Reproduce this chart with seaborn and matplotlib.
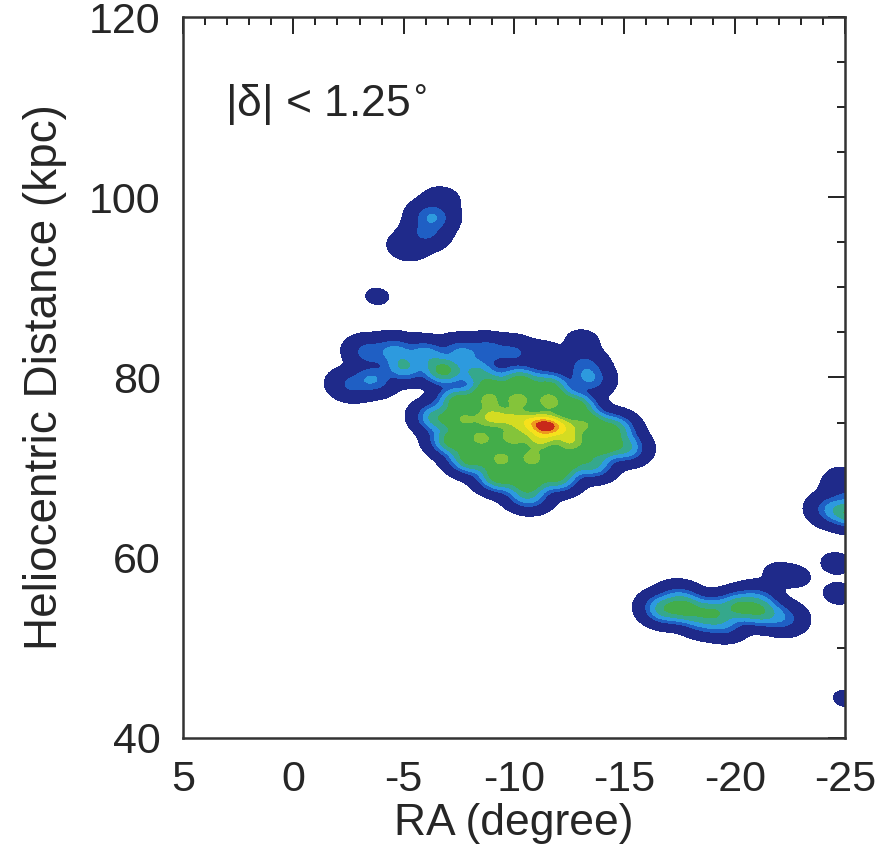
import numpy as np
import matplotlib
matplotlib.use("Agg")
import matplotlib.pyplot as plt
from matplotlib.ticker import MultipleLocator
from matplotlib.colors import ListedColormap, BoundaryNorm
from matplotlib.contour import ContourSet
import seaborn as sns

# ---- data: star-count clumps (RA [deg], heliocentric distance [kpc], weight) ----
# main clump
main_ra = [-11.5, -10.7, -9.8, -12.3,
           -9.0, -10.3, -11.6,
           -7.5, -8.8, -10.2, -11.6, -12.8,
           -6.5, -7.7, -8.9, -13.3, -14.5,
           -7.2, -8.5, -9.9, -11.2, -12.6, -13.9, -15.0,
           -8.0, -9.4, -10.8, -12.2, -13.5,
           -9.3, -10.6, -11.9,
           -10.6]
main_dist = [74.7, 75.0, 75.5, 74.5,
             79.0, 79.5, 79.0,
             77.3, 77.5, 77.5, 77.3, 76.8,
             75.5, 75.3, 75.5, 74.8, 74.3,
             73.0, 73.2, 73.3, 73.0, 72.8, 72.6, 72.3,
             71.0, 71.0, 71.0, 70.8, 70.5,
             69.0, 68.8, 69.0,
             67.0]
main_w = [4.0, 2.5, 2.0, 2.0,
          1.2, 1.5, 1.2,
          1.5, 2.2, 2.5, 2.5, 1.5,
          1.0, 2.2, 2.5, 2.0, 1.2,
          1.5, 2.5, 2.5, 2.5, 2.5, 1.8, 0.9,
          1.5, 2.5, 2.5, 2.0, 1.0,
          1.5, 2.0, 1.3,
          0.8]
# upper-left extension
ext_ra = [-2.6, -3.6, -3.4, -4.6, -5.0, -6.0, -6.8, -7.6, -8.8, -10.0, -8.3, -11.3]
ext_dist = [79.2, 79.8, 82.8, 83.0, 81.2, 82.6, 80.8, 82.8, 83.0, 82.8, 80.6, 82.3]
ext_w = [0.3, 0.5, 0.4, 0.5, 0.8, 0.6, 1.4, 0.5, 0.4, 0.3, 0.8, 0.15]
# small outlying clumps
small_ra = [-13.4, -13.2, -13.1,              # right of main clump
            -6.3, -6.0, -5.2, -6.7,           # ~98 kpc clump
            -3.8,                             # isolated dot
            -16.8, -17.8, -19.0, -20.2, -21.2, -22.2,   # ~54 kpc clump
            -17.5, -19.5, -21.0, -18.5,
            -22.0, -22.8,
            -25.3, -24.4, -25.0, -24.9,       # right edge ~65 kpc
            -24.6, -24.7, -25.0]
small_dist = [79.9, 81.5, 84.0,
              97.8, 96.0, 94.6, 99.7,
              89.0,
              54.3, 54.3, 54.0, 54.5, 54.0, 53.3,
              55.5, 52.6, 55.4, 53.0,
              58.2, 57.9,
              65.0, 65.3, 67.5, 68.8,
              59.4, 56.0, 44.4]
small_w = [0.5, 0.3, 0.06,
           0.5, 0.3, 0.12, 0.08,
           0.035,
           1.0, 1.2, 1.0, 1.2, 1.0, 0.4,
           0.4, 0.4, 0.4, 0.4,
           0.05, 0.04,
           1.2, 0.5, 0.2, 0.05,
           0.05, 0.05, 0.035]
# far off-field counterweights that keep the smoothing kernel untilted
bal_ra = [29.0, -51.0]
bal_dist = [11.5, 136.5]
bal_w = [0.3, 0.3]

levels = [0.004, 0.06, 0.12, 0.20, 0.30, 0.72, 0.87, 0.94, 0.97, 0.985, 1.0]
colors = ["#1f2a8a", "#1f5fc4", "#2d9ade", "#35a88c", "#43ad4a",
          "#84c43a", "#d4dc22", "#f6e11c", "#ee9a1e", "#c8281a"]

xticks = [5, 0, -5, -10, -15, -20, -25]
yticks = [40, 60, 80, 100, 120]

ra = np.array(main_ra + ext_ra + small_ra + bal_ra)
dist = np.array(main_dist + ext_dist + small_dist + bal_dist)
weight = np.array(main_w + ext_w + small_w + bal_w)

sns.set_style("white")
plt.rcParams["font.family"] = ["Liberation Sans", "DejaVu Sans"]
plt.rcParams["axes.unicode_minus"] = False

fig = plt.figure(figsize=(8.85, 8.6), dpi=100)
ax = fig.add_axes([0.2068, 0.1419, 0.7480, 0.8383])

cmap = ListedColormap(colors)
sns.kdeplot(x=ra, y=dist, weights=weight, fill=True, levels=levels,
            cmap=cmap, bw_adjust=0.18, gridsize=400,
            clip=((-26, 6), (38, 121)), ax=ax)

# one colour per contour band (bands are not evenly spaced in density)
for coll in ax.collections:
    if isinstance(coll, ContourSet):
        coll.set_cmap(cmap)
        coll.set_norm(BoundaryNorm(coll.levels, cmap.N))

ax.set_xlim(5, -25)
ax.set_ylim(40, 120)
ax.set_xticks(xticks)
ax.set_yticks(yticks)
ax.xaxis.set_minor_locator(MultipleLocator(1))
ax.yaxis.set_minor_locator(MultipleLocator(5))
ax.tick_params(which="both", direction="in", top=True, right=True,
               labeltop=False, labelright=False, width=1.4, color="#222222")
ax.tick_params(which="major", length=12, labelsize=31, pad=16)
ax.tick_params(which="minor", length=6)
for s in ax.spines.values():
    s.set_linewidth(1.8)
    s.set_color("#333333")
    s.set_visible(True)

ax.set_xlabel("RA (degree)", fontsize=32, labelpad=2)
ax.set_ylabel("Heliocentric Distance (kpc)", fontsize=33, labelpad=16)

ax.text(3.1, 109.0, "|δ| < 1.25$^{\\circ}$", fontsize=32, ha="left",
        va="baseline")

fig.savefig("out.png", dpi=100)
